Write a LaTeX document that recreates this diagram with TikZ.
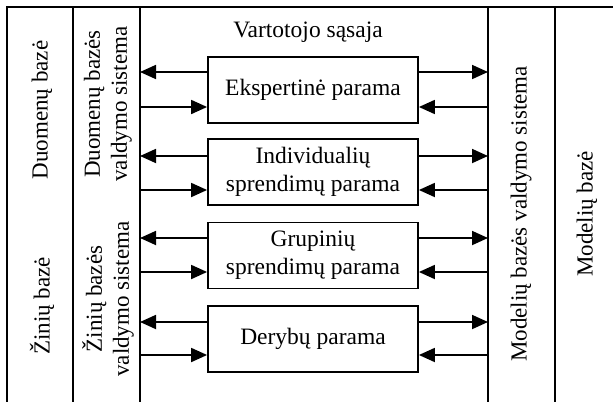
\documentclass[tikz,border=0pt]{standalone}
\usepackage{fontspec}
\setmainfont{Liberation Serif}
\usetikzlibrary{arrows.meta}
\begin{document}
\begin{tikzpicture}[x=1pt,y=-1pt,
  line width=1.8pt,
  txt/.style={font=\fontsize{23.5}{28}\selectfont, align=center, inner sep=0pt},
  rtxt/.style={font=\fontsize{23}{27}\selectfont, align=center, inner sep=0pt, rotate=90},
  pbox/.style={draw, minimum width=210pt, minimum height=66pt, inner sep=0pt, font=\fontsize{23.5}{28}\selectfont, align=center},
  arr/.style={-{Triangle[length=16pt,width=14pt]}}]
\useasboundingbox (0,0) rectangle (613,402);
% frame lines
\coordinate (tl) at (7,7);
\coordinate (tr) at (613,7);
\draw (tr) -- (tl) -- (7,402);
\foreach \x/\n in {73/a,140/b,488/c,555/d} {
  \coordinate (\n top) at (\x,7);
  \coordinate (\n bot) at (\x,402);
  \draw (\n top) -- (\n bot);
}
% column texts
\node[rtxt] (db) at (42,110) {Duomenų bazė};
\node[rtxt] (zb) at (42,306) {Žinių bazė};
\node[rtxt] (dbvs) at (108,104) {Duomenų bazės\\valdymo sistema};
\node[rtxt] (zbvs) at (108,299) {Žinių bazės\\valdymo sistema};
\node[rtxt] (mbvs) at (521,214) {Modelių bazės valdymo sistema};
\node[rtxt] (mb) at (587,214) {Modelių bazė};
\node[txt] (vs) at (308,32) {Vartotojo sąsaja};
% boxes
\node[pbox] (b1) at (313,90) {Ekspertinė parama};
\node[pbox] (b2) at (313,172) {Individualių\\sprendimų parama};
\node[pbox] (b3) at (313,255.5) {Grupinių\\sprendimų parama};
\node[pbox] (b4) at (313,339) {Derybų parama};
% arrows
\foreach \b/\yu/\yl in {b1/72/107, b2/156/190, b3/238/272, b4/322/355} {
  \coordinate (\b L1) at (140,\yu);
  \coordinate (\b L2) at (140,\yl);
  \coordinate (\b R1) at (488,\yu);
  \coordinate (\b R2) at (488,\yl);
  \draw[arr] (\b.west |- \b L1) -- (\b L1);
  \draw[arr] (\b L2) -- (\b.west |- \b L2);
  \draw[arr] (\b.east |- \b R1) -- (\b R1);
  \draw[arr] (\b R2) -- (\b.east |- \b R2);
}
\end{tikzpicture}
\end{document}
